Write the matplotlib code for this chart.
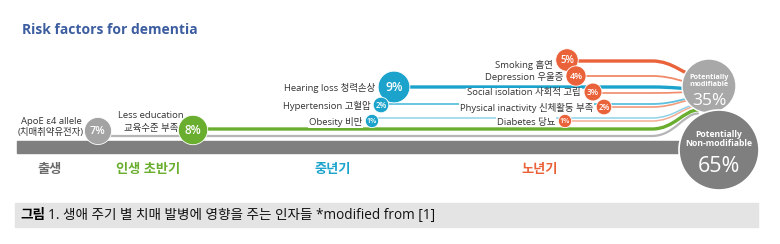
import numpy as np
import matplotlib.pyplot as plt
from matplotlib.patches import Circle, Rectangle, PathPatch
from matplotlib.path import Path

plt.rcParams['font.family'] = ['Open Sans', 'Noto Sans CJK KR', 'DejaVu Sans']

# data
title = 'Risk factors for dementia'
factors = ['ApoE ε4 allele', 'Less education', 'Hearing loss', 'Hypertension', 'Obesity',
           'Smoking', 'Depression', 'Social isolation', 'Physical inactivity', 'Diabetes']
factors_kr = ['(치매취약유전자)', '교육수준 부족', '청력손상', '고혈압', '비만',
              '흡연', '우울증', '사회적 고립', '신체활동 부족', '당뇨']
percents = [7, 8, 9, 2, 1, 5, 4, 3, 2, 1]
stage_of = [0, 1, 2, 2, 2, 3, 3, 3, 3, 3]
stages = ['출생', '인생 초반기', '중년기', '노년기']
modifiable = 35
non_modifiable = 65
caption_bold = '그림'
caption = '1. 생애 주기 별 치매 발병에 영향을 주는 인자들 *modified from [1]'

# layout (pixels)
stage_colors = ['#a3a3a3', '#6aae2f', '#1ba3cc', '#ea6239']
stage_text_colors = ['#6b6b6b', '#6aae2f', '#1ba3cc', '#ea6239']
stage_x = [50, 148, 333, 540]
circ_x = [98, 193, 394, 381, 372, 567, 576, 593, 604, 565]
circ_y = [131, 130, 87, 105, 121, 60, 76, 92, 107, 121]
line_y = [136, 129, 87, 104, 118, 61, 76, 93, 107, 121]
line_c = ['#b5b5b5', '#6aae2f', '#1ba3cc', '#5cc0de', '#8fd2e8',
          '#ea6239', '#f08a68', '#f08a68', '#f29a7c', '#f4ad95']
line_w = [1.6, 2.4, 2.4, 1.3, 1.1, 2.4, 1.3, 1.2, 1.2, 1.1]

c35 = (709, 86, 27)
c65 = (719, 150, 40)

fig = plt.figure(figsize=(7.8, 2.44), dpi=100)
ax = fig.add_axes([0, 0, 1, 1])
ax.set_xlim(0, 780)
ax.set_ylim(244, 0)
ax.axis('off')

ax.text(22, 30, title, fontsize=10, fontweight='bold', color='#3c5d9f',
        va='center', ha='left')

# lines into the modifiable circle
for i in range(len(factors)):
    y = line_y[i]
    ty = 93 + (y - 95) * 0.5
    tx = 698
    xt = 652
    verts = [(circ_x[i], y), (xt, y), (xt + 22, y), (tx - 14, ty), (tx, ty)]
    codes = [Path.MOVETO, Path.LINETO, Path.CURVE4, Path.CURVE4, Path.CURVE4]
    ax.add_patch(PathPatch(Path(verts, codes), fill=False, edgecolor=line_c[i],
                           lw=line_w[i], capstyle='round', zorder=1))

# timeline bar
ax.add_patch(Rectangle((17, 141), 690, 12, color='#7f7f7f', zorder=2))

# factor labels
for i in range(len(factors)):
    r = 5.5 + 1.15 * percents[i]
    if i == 0:
        ax.text(51, 121, factors[i], fontsize=6.8, ha='center', va='center', color='#333333')
        ax.text(51, 133, factors_kr[i], fontsize=6.8, ha='center', va='center', color='#333333')
    elif i == 1:
        ax.text(151, 116, factors[i], fontsize=6.8, ha='center', va='center', color='#333333')
        ax.text(151, 128, factors_kr[i], fontsize=6.8, ha='center', va='center', color='#333333')
    else:
        ax.text(circ_x[i] - r - 3, circ_y[i] + (5 if i == 5 else 1),
                factors[i] + ' ' + factors_kr[i], fontsize=6.8, ha='right', va='center',
                color='#333333', zorder=3,
                bbox=dict(boxstyle='square,pad=0.1', fc='white', ec='none'))
    ax.add_patch(Circle((circ_x[i], circ_y[i]), r, color=stage_colors[stage_of[i]],
                        ec='white', lw=0.6, zorder=4))
    ax.text(circ_x[i], circ_y[i] + 0.5, f'{percents[i]}%', color='white',
            fontsize=4.8 + 0.45 * percents[i], fontweight='semibold',
            ha='center', va='center', zorder=5)

# totals
ax.add_patch(Circle(c35[:2], c35[2], color='#a8a8a8', ec='white', lw=1, zorder=6))
ax.text(c35[0], 81, 'Potentially\nmodifiable', color='white', fontsize=5.2,
        fontweight='bold', ha='center', va='center', linespacing=1.0, zorder=7)
ax.text(c35[0], 101, f'{modifiable}%', color='white', fontsize=12.5,
        ha='center', va='center', zorder=7)
ax.add_patch(Circle(c65[:2], c65[2], color='#7f7f7f', ec='white', lw=1.2, zorder=8))
ax.text(c65[0], 139, 'Potentially\nNon-modifiable', color='white', fontsize=6.2,
        fontweight='bold', ha='center', va='center', linespacing=1.1, zorder=9)
ax.text(c65[0], 166, f'{non_modifiable}%', color='white', fontsize=15.5,
        ha='center', va='center', zorder=9)

# stage labels
for s, x, c in zip(stages, stage_x, stage_text_colors):
    ax.text(x, 170, s, color=c, fontsize=9.5, fontweight='bold', ha='center', va='center')

# caption
ax.add_patch(Rectangle((15, 203), 743, 24, color='#e4e4e4', zorder=1))
ax.text(20, 215, caption_bold, fontsize=9.8, fontweight='bold', va='center', ha='left')
ax.text(48, 215, caption, fontsize=9.8, va='center', ha='left', color='#111111')

fig.savefig('out.png', dpi=100)
